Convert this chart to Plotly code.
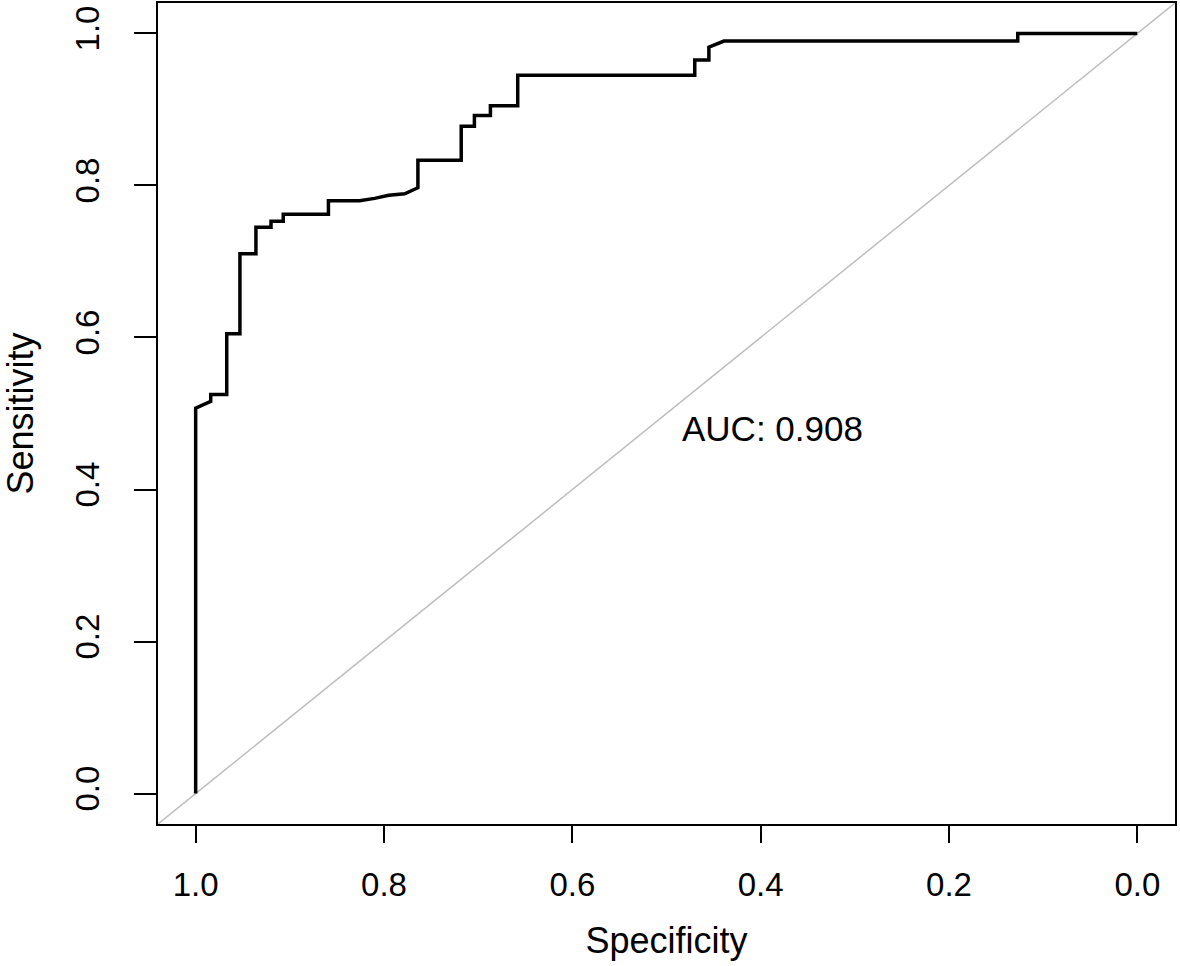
"""ROC curve (pROC-style) redrawn with Plotly."""
import plotly.graph_objects as go

FONT = "Liberation Sans, Arial, sans-serif"

# curve corners
specificity = [
    1.000, 1.000, 0.984, 0.984, 0.967, 0.967, 0.953, 0.953, 0.936, 0.936,
    0.920, 0.920, 0.907, 0.907, 0.859, 0.859, 0.826, 0.810, 0.795, 0.778,
    0.764, 0.764, 0.718, 0.718, 0.704, 0.704, 0.687, 0.687, 0.658, 0.658,
    0.470, 0.470, 0.455, 0.455, 0.439, 0.127, 0.127, 0.000,
]
sensitivity = [
    0.000, 0.507, 0.516, 0.525, 0.525, 0.605, 0.605, 0.710, 0.710, 0.745,
    0.745, 0.753, 0.753, 0.762, 0.762, 0.780, 0.780, 0.783, 0.787, 0.789,
    0.797, 0.833, 0.833, 0.878, 0.878, 0.892, 0.892, 0.905, 0.905, 0.945,
    0.945, 0.965, 0.965, 0.982, 0.990, 0.990, 1.000, 1.000,
]

tick_vals = [0.0, 0.2, 0.4, 0.6, 0.8, 1.0]
tick_text = ["0.0", "0.2", "0.4", "0.6", "0.8", "1.0"]
auc_label = "AUC: 0.908"
AXIS_RANGE = [-0.04, 1.04]

fig = go.Figure()

# chance diagonal, corner to corner of the plot region
fig.add_trace(go.Scatter(
    x=[AXIS_RANGE[1], AXIS_RANGE[0]], y=[AXIS_RANGE[0], AXIS_RANGE[1]],
    mode="lines", line=dict(color="#BEBEBE", width=1.5),
    hoverinfo="skip", showlegend=False,
))
fig.add_trace(go.Scatter(
    x=specificity, y=sensitivity,
    mode="lines", line=dict(color="black", width=3.5),
    name="ROC", showlegend=False,
))

fig.add_annotation(
    text=auc_label, x=0.387, y=0.48, xref="x", yref="y",
    showarrow=False, font=dict(family=FONT, size=35, color="black"),
)

_axis_common = dict(
    tickvals=tick_vals, ticktext=tick_text,
    showgrid=False, zeroline=False, automargin=False,
    showline=True, mirror=True, linecolor="black", linewidth=2,
    ticks="outside", tickcolor="black", tickwidth=2,
    tickfont=dict(family=FONT, size=33, color="black"),
)

fig.update_layout(
    width=1180, height=966,
    margin=dict(l=158, r=5, t=3, b=142),
    paper_bgcolor="white", plot_bgcolor="white",
    xaxis=dict(
        range=[AXIS_RANGE[1], AXIS_RANGE[0]], ticklen=17,
        ticklabelstandoff=13,
        title=dict(text="Specificity", standoff=26,
                   font=dict(family=FONT, size=36, color="black")),
        **_axis_common,
    ),
    yaxis=dict(
        range=AXIS_RANGE, ticklen=22, tickangle=-90,
        ticklabelstandoff=22,
        title=dict(text="Sensitivity", standoff=40,
                   font=dict(family=FONT, size=36, color="black")),
        **_axis_common,
    ),
)

# drop the browser's default body margin so the figure sits at the page origin
fig.write_html(
    "out.html",
    config={"displayModeBar": False},
    post_script="document.body.style.margin='0';",
)
